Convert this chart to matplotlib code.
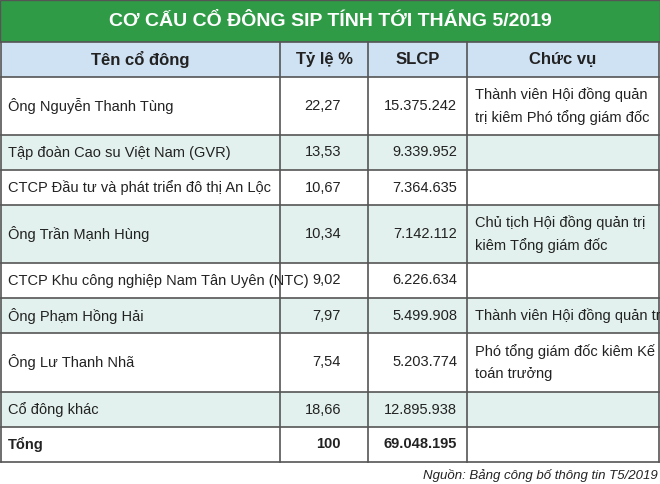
import matplotlib
matplotlib.use("Agg")
import matplotlib.pyplot as plt
from matplotlib.patches import Rectangle

plt.rcParams['font.family'] = ['Liberation Sans', 'DejaVu Sans']

# ============================================================
# DATA
# ============================================================
title = "CƠ CẤU CỔ ĐÔNG SIP TÍNH TỚI THÁNG 5/2019"
headers = ["Tên cổ đông", "Tỷ lệ %", "SLCP", "Chức vụ"]
names = ["Ông Nguyễn Thanh Tùng", "Tập đoàn Cao su Việt Nam (GVR)",
         "CTCP Đầu tư và phát triển đô thị An Lộc", "Ông Trần Mạnh Hùng",
         "CTCP Khu công nghiệp Nam Tân Uyên (NTC)", "Ông Phạm Hồng Hải",
         "Ông Lư Thanh Nhã", "Cổ đông khác", "Tổng"]
ratios = ["22,27", "13,53", "10,67", "10,34", "9,02", "7,97", "7,54", "18,66", "100"]
shares = ["15.375.242", "9.339.952", "7.364.635", "7.142.112", "6.226.634",
          "5.499.908", "5.203.774", "12.895.938", "69.048.195"]
roles = ["Thành viên Hội đồng quản\ntrị kiêm Phó tổng giám đốc", "", "",
         "Chủ tịch Hội đồng quản trị\nkiêm Tổng giám đốc", "",
         "Thành viên Hội đồng quản trị", "Phó tổng giám đốc kiêm Kế\ntoán trưởng", "", ""]
source = "Nguồn: Bảng công bố thông tin T5/2019"

# layout in pixels
W, H = 660, 484
col_x = [1, 280, 368, 467, 659]
row_y = [42, 77, 135, 170, 205, 263, 298, 333, 392, 427, 462]

fig = plt.figure(figsize=(6.6, 4.84), dpi=100)
ax = fig.add_axes([0, 0, 1, 1])
ax.set_xlim(0, W)
ax.set_ylim(H, 0)
ax.axis("off")

green = "#2f9b47"
border = "#555555"
fs = 10.5

# title bar
ax.add_patch(Rectangle((0, 0), W, 42, facecolor=green, edgecolor=border, lw=1))
ax.text(W / 2, 22, title, color="white", fontsize=14, fontweight="bold",
        ha="center", va="center")

# header
ax.add_patch(Rectangle((col_x[0], row_y[0]), col_x[-1] - col_x[0], row_y[1] - row_y[0],
                       facecolor="#cfe2f3", edgecolor="none"))
for i, h in enumerate(headers):
    ax.text((col_x[i] + col_x[i + 1]) / 2, (row_y[0] + row_y[1]) / 2, h,
            fontsize=12, fontweight="bold", ha="center", va="center", color="#222222")

# body rows
for r in range(len(names)):
    y0, y1 = row_y[r + 1], row_y[r + 2]
    yc = (y0 + y1) / 2
    fc = "#e2f1ed" if r % 2 == 1 else "white"
    ax.add_patch(Rectangle((col_x[0], y0), col_x[-1] - col_x[0], y1 - y0,
                           facecolor=fc, edgecolor="none"))
    wt = "bold" if r == len(names) - 1 else "normal"
    ax.text(col_x[0] + 7, yc, names[r], fontsize=fs, fontweight=wt, ha="left", va="center", color="#222222")
    ax.text(col_x[2] - 27, yc, ratios[r], fontsize=fs, fontweight=wt, ha="right", va="center", color="#222222")
    ax.text(col_x[3] - 10, yc, shares[r], fontsize=fs, fontweight=wt, ha="right", va="center", color="#222222")
    if roles[r]:
        ax.text(col_x[3] + 8, yc, roles[r], fontsize=fs, ha="left", va="center",
                linespacing=1.7, color="#222222")

# grid lines
for y in row_y:
    ax.plot([col_x[0], col_x[-1]], [y, y], color=border, lw=1.2)
for x in col_x:
    ax.plot([x, x], [row_y[0], row_y[-1]], color=border, lw=1.2)

ax.text(W - 2, 476, source, fontsize=9.5, style="italic", ha="right", va="center", color="#222222")

fig.savefig("out.png", dpi=100)
